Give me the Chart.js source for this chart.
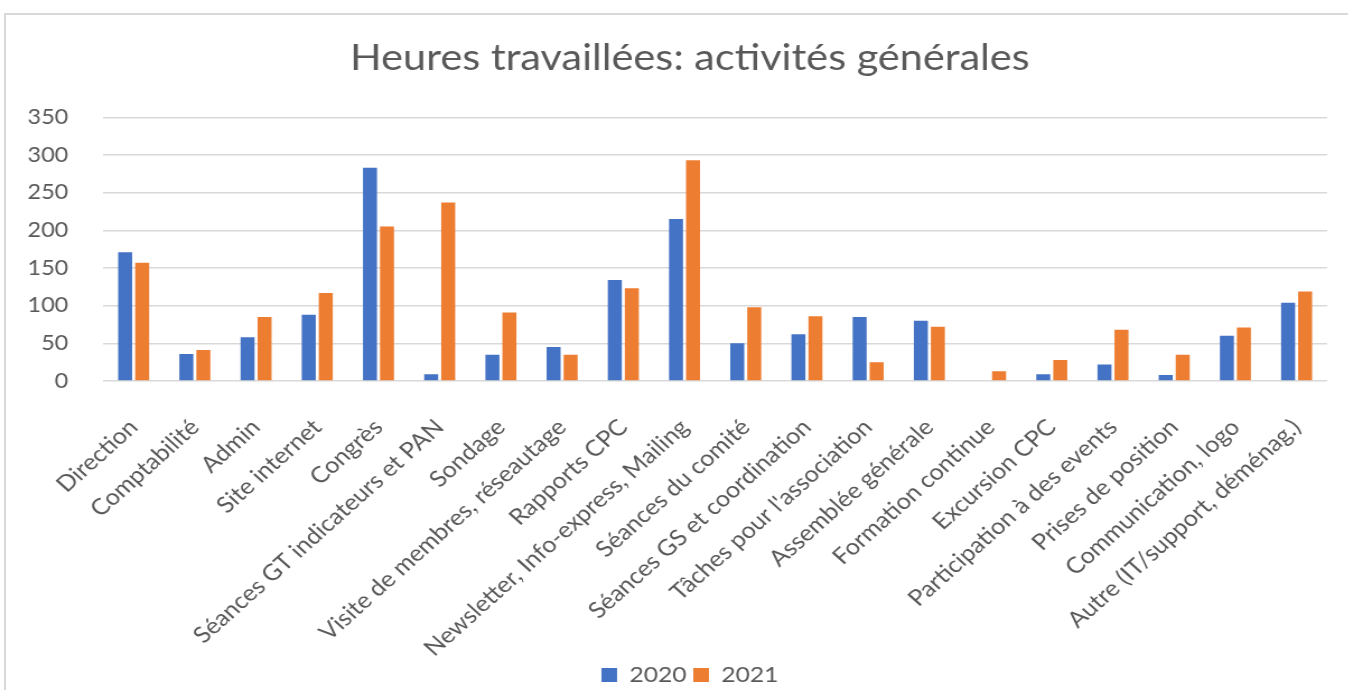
<!DOCTYPE html>
<html>
<head>
<meta charset="utf-8">
<script src="https://cdn.jsdelivr.net/npm/chart.js@4"></script>
<style>
  html, body { margin: 0; padding: 0; background: #fff; overflow: hidden; }
  #cadre {
    position: absolute; left: 4px; top: 13px; width: 1400px; height: 720px;
    border: 2px solid #d9d9d9; box-sizing: border-box;
  }
  /* la figure d'origine est un peu étirée en largeur et coupée à droite */
  #zone {
    position: absolute; left: 0; top: 0; width: 1232px; height: 690px;
    transform: scaleX(1.12); transform-origin: 0 0;
  }
</style>
</head>
<body>
<div id="cadre"></div>
<div id="zone"><canvas id="graphique"></canvas></div>
<script>
// catégories (axe X)
const categories = [
  "Direction", "Comptabilité", "Admin", "Site internet", "Congrès",
  "Séances GT indicateurs et PAN", "Sondage", "Visite de membres, réseautage",
  "Rapports CPC", "Newsletter, Info-express, Mailing", "Séances du comité",
  "Séances GS et coordination", "Tâches pour l'association", "Assemblée générale",
  "Formation continue", "Excursion CPC", "Participation à des events",
  "Prises de position", "Communication, logo", "Autre (IT/support, déménag.)"
];

// heures 2020
const heures2020 = [171, 36, 58, 88, 283, 9, 35, 45, 134, 215, 50, 62, 85, 80, 0, 9, 22, 8, 60, 104];
// heures 2021
const heures2021 = [157, 41, 85, 117, 205, 237, 91, 35, 123, 293, 98, 86, 25, 72, 13, 28, 68, 35, 71, 119];

// graduations de l'axe Y
const graduations = [0, 50, 100, 150, 200, 250, 300, 350];

const GRIS = "#595959";
const POLICE = "Lato";

const ctx = document.getElementById("graphique").getContext("2d");

const grafico = new Chart(ctx, {
  type: "bar",
  data: {
    labels: categories,
    datasets: [
      { label: "2020", data: heures2020, backgroundColor: "#4472C4", borderWidth: 0 },
      { label: "2021", data: heures2021, backgroundColor: "#ED7D31", borderWidth: 0 },
    ],
  },
  options: {
    responsive: true,
    maintainAspectRatio: false,
    animation: false,
    categoryPercentage: 0.556,
    barPercentage: 0.823,
    layout: { padding: { left: 0, right: 0, top: 0, bottom: -6 } },
    plugins: {
      title: {
        display: true,
        text: "Heures travaillées: activités générales",
        color: GRIS,
        font: { family: POLICE, size: 37, weight: "normal" },
        padding: { top: 36, bottom: 37 },
      },
      legend: {
        position: "bottom",
        labels: {
          color: GRIS,
          font: { family: POLICE, size: 22 },
          boxWidth: 14,
          boxHeight: 14,
          padding: 6,
        },
      },
      tooltip: { enabled: false },
    },
    scales: {
      x: {
        afterFit: (s) => { s.height = 277; },
        grid: { display: false },
        border: { display: false },
        ticks: {
          color: GRIS,
          font: { family: POLICE, size: 22.5 },
          minRotation: 45,
          maxRotation: 45,
          autoSkip: false,
          padding: 25,
        },
      },
      y: {
        min: 0,
        max: 350,
        afterFit: (s) => { s.width = 92; },
        afterBuildTicks: (s) => { s.ticks = graduations.map((v) => ({ value: v })); },
        grid: { color: "#d9d9d9", lineWidth: 1.5, drawTicks: false },
        border: { display: false },
        ticks: {
          color: GRIS,
          font: { family: POLICE, size: 21 },
          padding: 31,
        },
      },
      // marge vide à droite (le cadre du graphique dépasse la capture)
      droite: {
        position: "right",
        min: 0,
        max: 350,
        afterFit: (s) => { s.width = 47; },
        grid: { display: false },
        border: { display: false },
        ticks: { display: false },
      },
    },
  },
});
</script>
</body>
</html>
